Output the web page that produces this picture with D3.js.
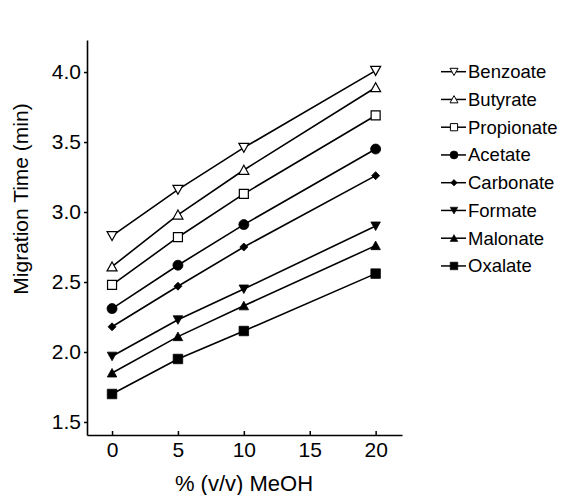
<!DOCTYPE html>
<html>
<head>
<meta charset="utf-8">
<script src="https://cdn.jsdelivr.net/npm/d3@7"></script>
<style>
  html, body { margin: 0; padding: 0; background: #fff; }
  svg { display: block; font-family: Arial, "Liberation Sans", Helvetica, sans-serif; }
</style>
</head>
<body>
<svg id="chart" width="561" height="495"></svg>
<script>
const meohPercent = [0, 5, 10, 20];
const seriesNames = ["Benzoate", "Butyrate", "Propionate", "Acetate", "Carbonate", "Formate", "Malonate", "Oxalate"];
const benzoate   = [2.83, 3.16, 3.46, 4.01];
const butyrate   = [2.61, 2.98, 3.30, 3.89];
const propionate = [2.48, 2.82, 3.13, 3.69];
const acetate    = [2.31, 2.62, 2.91, 3.45];
const carbonate  = [2.18, 2.47, 2.75, 3.26];
const formate    = [1.97, 2.23, 2.45, 2.90];
const malonate   = [1.85, 2.11, 2.33, 2.76];
const oxalate    = [1.70, 1.95, 2.15, 2.56];
const xTicks = [0, 5, 10, 15, 20];
const yTicks = [1.5, 2.0, 2.5, 3.0, 3.5, 4.0];
const markerTypes = ["triDownOpen", "triUpOpen", "squareOpen", "circle", "diamond", "triDown", "triUp", "square"];

const seriesValues = [benzoate, butyrate, propionate, acetate, carbonate, formate, malonate, oxalate];
const series = seriesNames.map((name, i) => ({
  name, marker: markerTypes[i],
  points: meohPercent.map((x, j) => ({ x, y: seriesValues[i][j] }))
}));

const svg = d3.select("#chart");
const x = d3.scaleLinear().domain([-1.9, 22]).range([87, 402]);
const y = d3.scaleLinear().domain([1.407, 4.229]).range([435, 40]);

// marker path generator centered at (0,0), s = full size
function markerPath(type, s) {
  const h = s / 2;
  switch (type) {
    case "triDownOpen": case "triDown":
      return `M${-h},${-h*0.85}L${h},${-h*0.85}L0,${h*0.95}Z`;
    case "triUpOpen": case "triUp":
      return `M${-h},${h*0.85}L${h},${h*0.85}L0,${-h*0.95}Z`;
    case "squareOpen": case "square":
      return `M${-h},${-h}L${h},${-h}L${h},${h}L${-h},${h}Z`;
    case "diamond":
      return `M0,${-h}L${h},0L0,${h}L${-h},0Z`;
    case "circle":
      return d3.arc()({innerRadius: 0, outerRadius: h, startAngle: 0, endAngle: 2 * Math.PI});
  }
}
const isOpen = t => t.endsWith("Open");
const sizeFor = t => ({triDownOpen: 10, triUpOpen: 10, squareOpen: 9, circle: 10, diamond: 8, triDown: 9.5, triUp: 9.5, square: 9.5})[t];

// axes
const yAxis = d3.axisLeft(y).tickValues(yTicks).tickFormat(d3.format(".1f")).tickSizeInner(3).tickSizeOuter(0).tickPadding(3);
const yG = svg.append("g").attr("transform", `translate(${x.range()[0]},0)`).call(yAxis);
yG.select(".domain").attr("stroke", "#000").attr("stroke-width", 1.6);
yG.selectAll(".tick line").attr("stroke", "#000").attr("stroke-width", 1.5);
yG.selectAll(".tick text").attr("font-size", 21).attr("fill", "#000");

const xAxis = d3.axisBottom(x).tickValues(xTicks).tickFormat(d3.format("d")).tickSizeInner(-4).tickSizeOuter(0).tickPadding(7);
const xG = svg.append("g").attr("transform", `translate(0,${y.range()[0]})`).call(xAxis);
xG.select(".domain").attr("stroke", "#000").attr("stroke-width", 1.6);
xG.selectAll(".tick line").attr("stroke", "#000").attr("stroke-width", 1.5);
xG.selectAll(".tick text").attr("font-size", 21).attr("fill", "#000");

// axis titles
svg.append("text").attr("x", 244).attr("y", 491).attr("text-anchor", "middle")
  .attr("font-size", 22).attr("fill", "#000").text("% (v/v) MeOH");
svg.append("text").attr("transform", "translate(28,199) rotate(-90)").attr("text-anchor", "middle")
  .attr("font-size", 21).attr("fill", "#000").text("Migration Time (min)");

// lines + markers
const line = d3.line().x(d => x(d.x)).y(d => y(d.y));
const sg = svg.append("g").selectAll("g").data(series).join("g");
sg.append("path").attr("d", d => line(d.points)).attr("fill", "none").attr("stroke", "#000").attr("stroke-width", 1.6);
sg.each(function(s) {
  d3.select(this).selectAll("path.m").data(s.points).join("path").attr("class", "m")
    .attr("transform", d => `translate(${x(d.x)},${y(d.y)})`)
    .attr("d", markerPath(s.marker, sizeFor(s.marker)))
    .attr("fill", isOpen(s.marker) ? "#fff" : "#000")
    .attr("stroke", "#000").attr("stroke-width", isOpen(s.marker) ? 1.2 : 0.8);
});

// legend
const lg = svg.append("g").selectAll("g").data(series).join("g")
  .attr("transform", (d, i) => `translate(0,${71.7 + i * 27.75})`);
lg.append("line").attr("x1", 441).attr("x2", 466).attr("y1", 0).attr("y2", 0).attr("stroke", "#000").attr("stroke-width", 1.5);
lg.append("path").attr("transform", "translate(454,0)")
  .attr("d", d => markerPath(d.marker, sizeFor(d.marker) * 0.8))
  .attr("fill", d => isOpen(d.marker) ? "#fff" : "#000")
  .attr("stroke", "#000").attr("stroke-width", d => isOpen(d.marker) ? 1 : 0.6);
lg.append("text").attr("x", 468).attr("y", 0).attr("dy", "0.35em")
  .attr("font-size", 18.5).attr("fill", "#000").text(d => d.name);
</script>
</body>
</html>
